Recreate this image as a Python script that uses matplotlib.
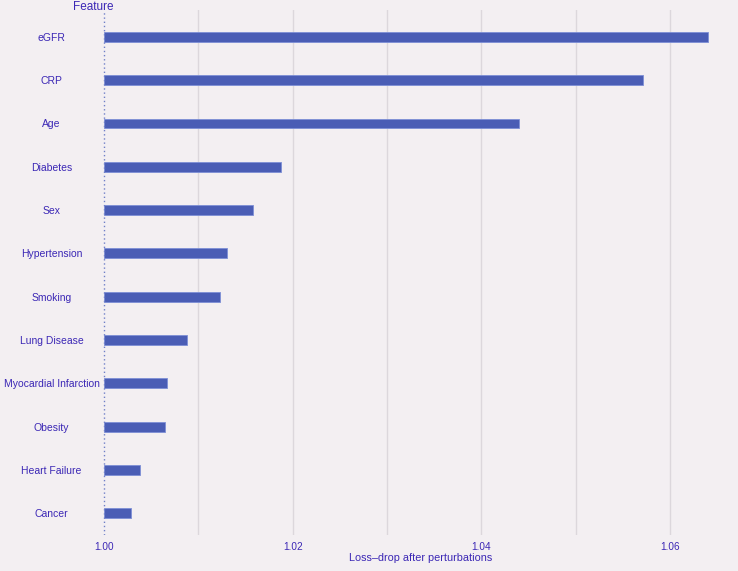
import matplotlib.pyplot as plt
import numpy as np

plt.rcParams['font.family'] = ['Liberation Sans', 'DejaVu Sans']

# data
features = ["eGFR", "CRP", "Age", "Diabetes", "Sex", "Hypertension", "Smoking",
            "Lung Disease", "Myocardial Infarction", "Obesity", "Heart Failure", "Cancer"]
loss_drop = [1.0640, 1.0571, 1.0440, 1.0188, 1.0158, 1.0130, 1.0123,
             1.0088, 1.0067, 1.0065, 1.0038, 1.0029]
xticks = [1.00, 1.02, 1.04, 1.06]
baseline = 1.00

BG = "#f3eff2"
BAR = "#4a5db5"
TXT = "#3b27b5"

fig = plt.figure(figsize=(7.38, 5.71), dpi=100, facecolor=BG)
ax = fig.add_axes([0.1396, 0.063, 0.8604, 0.9195], facecolor=BG)

y = np.arange(len(features))
ax.barh(y, np.array(loss_drop) - baseline, left=baseline, height=0.23,
        color=BAR, edgecolor="#7d8fd6", linewidth=0.6, zorder=3)

for gx in np.arange(1.01, 1.065, 0.01):
    ax.axvline(gx, color="#dcd7dc", linewidth=1.0, zorder=1)
ax.axvline(baseline, color="#6f7fc8", linewidth=1.0, linestyle=(0, (1, 2)), zorder=4)

ax.set_xlim(0.9999, 1.0672)
ax.set_ylim(11.5, -0.62)
ax.set_yticks(y)
ax.set_yticklabels(features, fontsize=7.5, color=TXT, ha="center")
ax.tick_params(axis="y", length=0, pad=37)
ax.set_xticks(xticks)
ax.set_xticklabels([f"{v:.2f}" for v in xticks], fontsize=7.2, color=TXT)
ax.tick_params(axis="x", length=0, pad=5)
for s in ax.spines.values():
    s.set_visible(False)

ax.set_xlabel("Loss\u2013drop after perturbations", fontsize=7.8, color=TXT, labelpad=1)
fig.text(0.099, 0.987, "Feature", fontsize=8.5, color=TXT, ha="left", va="center")

fig.savefig("out.png", dpi=100, facecolor=BG)
